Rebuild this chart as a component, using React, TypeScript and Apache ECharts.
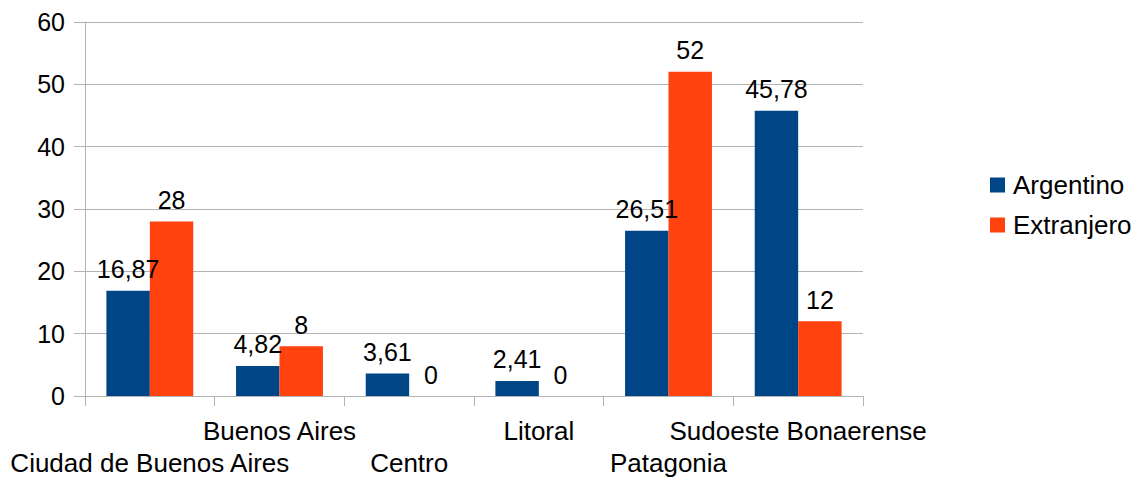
import React, { useEffect, useRef } from "react";
import * as echarts from "echarts";

const categories = [
  "Ciudad de Buenos Aires",
  "Buenos Aires",
  "Centro",
  "Litoral",
  "Patagonia",
  "Sudoeste Bonaerense",
];
const argentino = [16.87, 4.82, 3.61, 2.41, 26.51, 45.78];
const extranjero = [28, 8, 0, 0, 52, 12];
const seriesNames = ["Argentino", "Extranjero"];
const yTicks = { min: 0, max: 60, interval: 10 };

const FONT = "'Liberation Sans', Arial, sans-serif";
const FS = 25;
const FS_CAT = 26;

export default function App() {
  const ref = useRef<HTMLDivElement>(null);
  useEffect(() => {
    if (!ref.current) return;
    const chart = echarts.init(ref.current, undefined, { renderer: "svg" });
    const fmt = (v: number) => String(v).replace(".", ",");
    const label = {
      show: true,
      position: "top" as const,
      distance: 9,
      color: "#000",
      fontSize: FS,
      fontFamily: FONT,
      formatter: (p: any) => fmt(p.value),
    };
    chart.setOption({
      animation: false,
      textStyle: { fontFamily: FONT },
      grid: {
        left: 85,
        right: 272,
        top: 22,
        bottom: 81,
        containLabel: false,
        outerBoundsMode: "none",
      },
      legend: {
        orient: "vertical",
        left: 990,
        top: 172,
        itemWidth: 15,
        itemHeight: 15,
        itemGap: 14,
        padding: 0,
        icon: "rect",
        textStyle: { fontSize: 26, fontFamily: FONT, color: "#000", padding: [0, 0, 0, 3] },
        data: seriesNames,
      },
      xAxis: {
        type: "category",
        data: categories,
        axisLine: { show: true, lineStyle: { color: "#b3b3b3", width: 1 } },
        axisTick: { show: true, length: 10, lineStyle: { color: "#b3b3b3" } },
        axisLabel: {
          interval: 0,
          margin: 19,
          color: "#000",
          fontSize: FS_CAT,
          fontFamily: FONT,
          lineHeight: 32,
          verticalAlign: "top",
          overflow: "none",
          hideOverlap: false,
          formatter: (v: string, i: number) => (i % 2 === 1 ? v : "\n" + v),
        },
      },
      yAxis: {
        type: "value",
        min: yTicks.min,
        max: yTicks.max,
        interval: yTicks.interval,
        axisLine: { show: true, lineStyle: { color: "#b3b3b3", width: 1 } },
        axisTick: { show: true, length: 11, lineStyle: { color: "#b3b3b3" } },
        splitLine: { show: true, lineStyle: { color: "#b3b3b3", width: 1 } },
        axisLabel: { margin: 20, color: "#000", fontSize: FS, fontFamily: FONT },
      },
      series: [
        {
          name: seriesNames[0],
          type: "bar",
          data: argentino,
          barGap: "0%",
          barCategoryGap: "33%",
          itemStyle: { color: "#004586" },
          label,
        },
        {
          name: seriesNames[1],
          type: "bar",
          data: extranjero,
          barGap: "0%",
          barCategoryGap: "33%",
          itemStyle: { color: "#ff420e" },
          label,
        },
      ],
    });
    return () => chart.dispose();
  }, []);
  return (
    <div
      ref={ref}
      style={{ position: "absolute", left: 0, top: 0, width: 1135, height: 477 }}
    />
  );
}
